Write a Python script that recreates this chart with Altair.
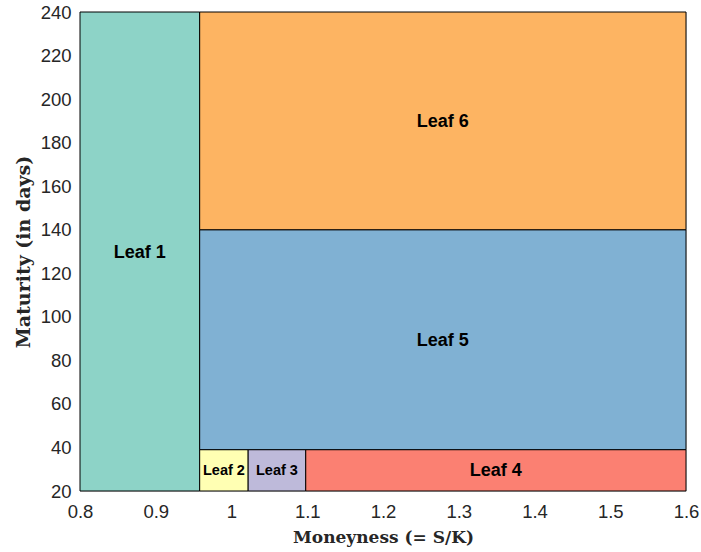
import altair as alt
import pandas as pd

leaves = ["Leaf 1", "Leaf 2", "Leaf 3", "Leaf 4", "Leaf 5", "Leaf 6"]
x_lo = [0.8, 0.958, 1.022, 1.098, 0.958, 0.958]
x_hi = [0.958, 1.022, 1.098, 1.6, 1.6, 1.6]
y_lo = [20, 20, 20, 20, 39, 140]
y_hi = [240, 39, 39, 39, 140, 240]
colors = ["#8dd3c7", "#ffffb3", "#bebada", "#fb8072", "#80b1d3", "#fdb462"]
label_size = [18, 14.5, 14.5, 18, 18, 18]

df = pd.DataFrame({
    "leaf": leaves, "x": x_lo, "x2": x_hi, "y": y_lo, "y2": y_hi,
    "color": colors, "size": label_size,
})
df["xc"] = (df["x"] + df["x2"]) / 2
df["yc"] = (df["y"] + df["y2"]) / 2

xscale = alt.Scale(domain=[0.8, 1.6], nice=False, zero=False)
yscale = alt.Scale(domain=[20, 240], nice=False, zero=False)

xaxis = alt.Axis(
    values=[0.8, 0.9, 1.0, 1.1, 1.2, 1.3, 1.4, 1.5, 1.6], format="~g",
    domain=False, ticks=False, grid=False, labelPadding=11, labelFlush=False,
    labelFont="Liberation Sans", labelFontSize=18.5, labelColor="#262626",
    title="Moneyness (= S/K)", titleFont="DejaVu Serif", titleFontSize=17,
    titleFontWeight="bold", titleColor="#262626", titlePadding=9,
)
yaxis = alt.Axis(
    values=list(range(20, 241, 20)),
    domain=False, ticks=False, grid=False, labelPadding=9, labelFlush=False,
    labelFont="Liberation Sans", labelFontSize=18.5, labelColor="#262626",
    title="Maturity (in days)", titleFont="DejaVu Serif", titleFontSize=19,
    titleFontWeight="bold", titleColor="#262626", titlePadding=7,
)

rects = alt.Chart(df).mark_rect(stroke="black", strokeWidth=1).encode(
    x=alt.X("x:Q", scale=xscale, axis=xaxis),
    x2="x2:Q",
    y=alt.Y("y:Q", scale=yscale, axis=yaxis),
    y2="y2:Q",
    fill=alt.Fill("color:N", scale=None),
)

labels = alt.Chart(df).mark_text(
    font="Liberation Sans", fontWeight="bold", color="black", dy=1
).encode(
    x=alt.X("xc:Q", scale=xscale),
    y=alt.Y("yc:Q", scale=yscale),
    text="leaf:N",
    size=alt.Size("size:Q", scale=None, legend=None),
)

chart = alt.layer(rects, labels).properties(
    width=606, height=479,
    autosize=alt.AutoSizeParams(type="none"),
    padding={"left": 80, "top": 12, "right": 15, "bottom": 61},
).configure_view(stroke=None).configure(background="white")

chart.save("out.html", embed_options={"renderer": "svg", "actions": False})
